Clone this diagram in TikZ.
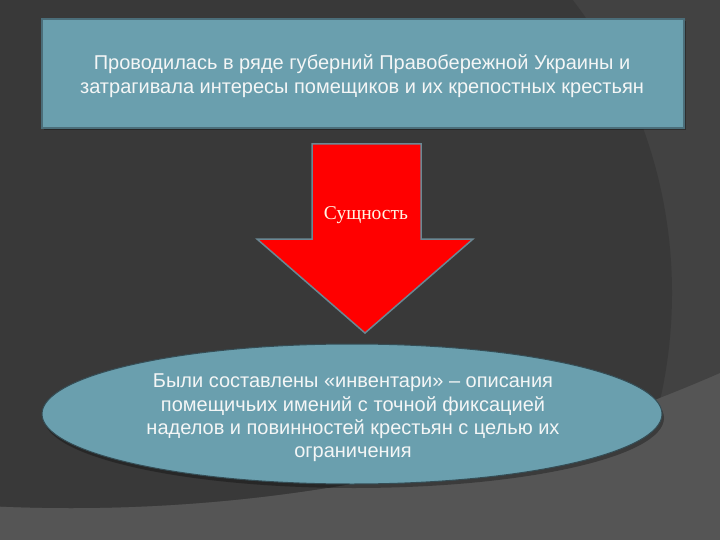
\documentclass[tikz,border=0pt]{standalone}
\usepackage{fontspec}
\setmainfont{Liberation Sans}
\newfontfamily\serifcyr{Liberation Serif}
\usetikzlibrary{shapes.geometric}
\definecolor{bglight}{HTML}{555555}
\definecolor{bgmed}{HTML}{424242}
\definecolor{bgdark}{HTML}{393939}
\definecolor{tealfill}{HTML}{6A9FAE}
\definecolor{tealedge}{HTML}{4B6E7A}
\definecolor{arrowred}{HTML}{FF0000}
\definecolor{arrowedge}{HTML}{6A8894}
\definecolor{txtwhite}{HTML}{F4F6F6}
\definecolor{txtcream}{HTML}{FFF6E4}
\tikzset{
  topbox/.style={draw=tealedge, line width=1.2pt, fill=tealfill, rectangle,
    minimum width=642pt, minimum height=109pt, inner sep=0pt},
  bodytext/.style={text=txtwhite, align=center, font=\fontsize{20}{24}\selectfont, inner sep=0pt},
  ellbox/.style={draw=tealedge!70!black, line width=1pt, fill=tealfill, ellipse,
    minimum width=620pt, minimum height=140pt, inner sep=0pt},
  arrowshape/.style={fill=arrowred, draw=arrowedge, line width=1.5pt, line join=miter},
  shadowfill/.style={fill=black, opacity=0.3}
}
\begin{document}
\begin{tikzpicture}[x=1pt, y=-1pt]
\useasboundingbox (0,0) rectangle (720,540);
% background
\fill[bglight] (0,0) rectangle (720,540);
\begin{scope}
  \clip (71,-1114) circle (1622pt);
  \fill[bgmed] (0,0) rectangle (720,540);
  \fill[bgdark] (190,293) circle (482pt);
\end{scope}
% top box
\fill[shadowfill] (44,21) rectangle (686,130);
\node[topbox] (top) at (363,73.5) {};
\node[bodytext] (toptext) at (362,76) {Проводилась в ряде губерний Правобережной Украины и\\затрагивала интересы помещиков и их крепостных крестьян};
% arrow
\draw[arrowshape] (312,144) -- (421,144) -- (421,239) -- (473,239) -- (365,333) -- (257,239) -- (312,239) -- cycle;
\node[text=txtcream, font=\serifcyr\fontsize{19.5}{22}\selectfont, inner sep=0pt] (arrowlbl) at (366,215) {Сущность};
% ellipse
\fill[shadowfill] (354,418) ellipse (310pt and 70pt);
\node[ellbox] (ell) at (352,414) {};
\node[bodytext, font=\fontsize{20}{23.3}\selectfont] (elltext) at (353,418) {Были составлены «инвентари» – описания\\помещичьих имений с точной фиксацией\\наделов и повинностей крестьян с целью их\\ограничения};
\end{tikzpicture}
\end{document}
